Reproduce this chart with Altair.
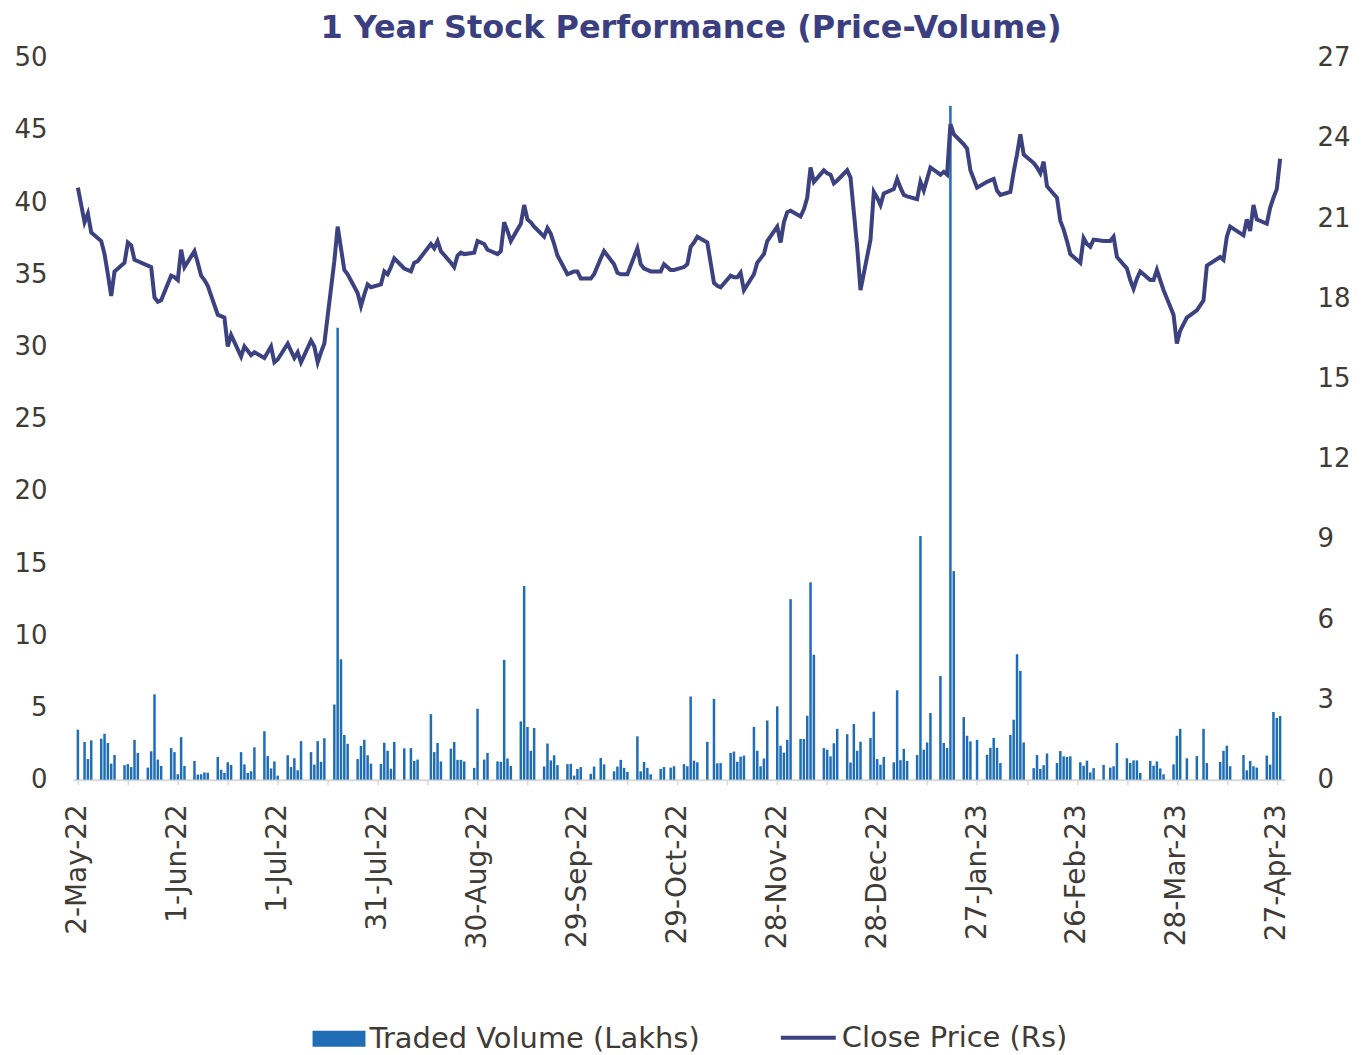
import altair as alt
import pandas as pd

# ---------------- data ----------------
HOLIDAYS = ["2022-05-03", "2022-08-09", "2022-08-15", "2022-08-31", "2022-10-05",
            "2022-10-26", "2022-11-08", "2023-01-26", "2023-03-07", "2023-03-30",
            "2023-04-04", "2023-04-07", "2023-04-14"]

# Close price (Rs), one value per trading day, week by week
close_price = [
    41.0, 38.6, 39.2, 37.9,
    37.3, 36.4, 35.0, 33.5, 35.2,
    35.8, 37.2, 37.0, 36.0, 35.9,
    35.6, 35.5, 33.4, 33.1, 33.2,
    34.9, 34.8, 34.6, 36.7, 35.5,
    36.6, 35.8, 34.9, 34.6, 34.2,
    32.2, 32.1, 32.0, 30.0, 30.8,
    29.3, 30.0, 29.7, 29.4, 29.6,
    29.2, 29.6, 30.0, 28.9, 29.1,
    30.2, 29.7, 29.2, 29.6, 28.9,
    30.4, 30.0, 28.9, 29.6, 30.2,
    35.9, 38.3, 36.8, 35.3, 35.0,
    33.7, 32.8, 33.6, 34.3, 34.1,
    34.3, 35.2, 35.0, 35.5, 36.1,
    35.4, 35.2, 35.8, 35.9,
    37.1, 36.8, 37.3, 36.6,
    35.8, 35.5, 36.3, 36.5, 36.4,
    36.5, 37.3, 37.1, 36.7,
    36.4, 36.6, 38.6, 38.0, 37.3,
    38.5, 39.8, 38.8, 38.6, 38.3,
    37.6, 38.2, 37.8, 37.1, 36.3,
    35.0, 35.1, 35.2, 35.2, 34.7,
    34.7, 35.0, 36.1, 36.6,
    35.7, 35.1, 35.0, 35.0, 35.0,
    36.8, 35.7, 35.4, 35.3, 35.2,
    35.2, 35.7, 35.3, 35.3,
    35.5, 35.7, 36.9, 37.2, 37.6,
    37.2, 34.4, 34.2, 34.1,
    34.9, 34.8, 34.8, 35.1, 33.9,
    35.0, 35.8, 36.1, 36.4, 37.3,
    38.3, 37.2, 38.6, 39.3, 39.4,
    39.0, 39.5, 40.3, 42.4, 41.4,
    42.2, 42.0, 41.9, 41.3, 41.5,
    42.2, 41.7, 39.3, 36.9, 33.9,
    37.4, 40.7, 40.3, 39.8, 40.6,
    40.9, 41.6, 41.0, 40.5, 40.4,
    40.2, 41.4, 40.8, 41.6, 42.4,
    41.9, 42.1, 41.9, 45.4, 44.7,
    44.0, 43.7, 42.2, 41.0,
    41.4, 41.5, 41.6, 40.8, 40.5,
    40.7, 42.1, 43.3, 44.7, 43.3,
    42.7, 42.4, 42.0, 42.8, 41.1,
    40.3, 38.7, 38.1, 37.3, 36.4,
    35.8, 37.5, 37.1, 36.9, 37.4,
    37.3, 37.3, 37.6, 36.2,
    35.4, 34.6, 34.0, 34.7, 35.2,
    34.6, 34.6, 35.3, 34.6, 33.9,
    32.2, 30.2, 31.1, 32.0,
    32.5, 33.2, 35.6,
    36.2, 36.0, 37.6, 38.3,
    37.7, 38.8, 38.0, 39.8, 38.8,
    38.5, 39.6, 40.3, 40.9, 43.0,
]

# Traded volume (lakhs), one value per trading day, week by week
traded_volume = [
    1.87, 1.41, 0.77, 1.47,
    1.53, 1.72, 1.37, 0.60, 0.92,
    0.54, 0.58, 0.47, 1.49, 1.00,
    0.45, 1.06, 3.19, 0.75, 0.51,
    1.18, 1.03, 0.20, 1.59, 0.51,
    0.70, 0.19, 0.20, 0.27, 0.26,
    0.85, 0.37, 0.25, 0.65, 0.55,
    1.03, 0.57, 0.25, 0.31, 1.21,
    1.81, 0.88, 0.42, 0.68, 0.15,
    0.91, 0.47, 0.80, 0.35, 1.44,
    1.03, 0.56, 1.44, 0.67, 1.55,
    2.81, 16.9, 4.50, 1.67, 1.34,
    0.77, 1.26, 1.49, 0.91, 0.60,
    0.59, 1.38, 1.08, 0.41, 1.41,
    1.17, 1.18, 0.70, 0.75,
    2.45, 1.03, 1.37, 0.68,
    1.16, 1.41, 0.74, 0.74, 0.68,
    0.44, 2.65, 0.75, 1.00,
    0.68, 0.67, 4.48, 0.79, 0.51,
    2.18, 7.24, 1.97, 1.08, 1.93,
    0.49, 1.35, 0.72, 0.91, 0.54,
    0.58, 0.59, 0.15, 0.40, 0.47,
    0.22, 0.49, 0.81, 0.57,
    0.31, 0.49, 0.74, 0.44, 0.29,
    1.62, 0.31, 0.66, 0.44, 0.20,
    0.40, 0.47, 0.45, 0.50,
    0.58, 0.50, 3.11, 0.71, 0.65,
    1.41, 3.02, 0.61, 0.62,
    1.00, 1.05, 0.67, 0.86, 0.90,
    1.97, 1.08, 0.50, 0.79, 2.21,
    2.74, 1.27, 1.01, 1.49, 6.75,
    1.52, 1.52, 2.39, 7.38, 4.67,
    1.18, 1.12, 0.87, 1.36, 1.90,
    1.70, 0.64, 2.08, 1.08, 1.42,
    1.56, 2.54, 0.77, 0.56, 0.85,
    0.65, 3.34, 0.73, 1.15, 0.70,
    0.92, 9.11, 1.12, 1.39, 2.49,
    3.88, 1.37, 1.18, 25.2, 7.80,
    2.34, 1.64, 1.43, 1.49,
    0.93, 1.19, 1.56, 1.19, 0.62,
    1.67, 2.24, 4.69, 4.07, 1.39,
    0.43, 0.92, 0.40, 0.54, 0.98,
    0.62, 1.07, 0.87, 0.85, 0.87,
    0.65, 0.52, 0.71, 0.27, 0.43,
    0.55, 0.45, 0.50, 1.37,
    0.80, 0.62, 0.72, 0.72, 0.25,
    0.70, 0.52, 0.68, 0.42, 0.20,
    0.57, 1.64, 1.90, 0.80,
    0.88, 1.90, 0.62,
    0.66, 1.08, 1.27, 0.50,
    0.92, 0.35, 0.70, 0.50, 0.45,
    0.90, 0.56, 2.53, 2.31, 2.38,
]

price_ticks = list(range(0, 51, 5))
volume_ticks = list(range(0, 28, 3))
series_names = ["Traded Volume (Lakhs)", "Close Price (Rs)"]

trading_days = [d for d in pd.bdate_range("2022-05-02", "2023-04-28")
                if d.strftime("%Y-%m-%d") not in HOLIDAYS]

df = pd.DataFrame({"date": trading_days, "price": close_price, "volume": traded_volume})

# ---------------- style ----------------
FONT = "DejaVu Sans"
TXT = "#3F3B36"
BAR = "#1F6EB5"
LINE = "#3C4180"
AXISGREY = "#D9D9D9"

tick_dates = pd.date_range("2022-05-02", periods=25, freq="15D")
tick_values = [alt.DateTime(year=d.year, month=d.month, date=d.day) for d in tick_dates]

x_enc = alt.X(
    "date:T",
    title=None,
    scale=alt.Scale(domain=[alt.DateTime(year=2022, month=5, date=2),
                            alt.DateTime(year=2023, month=4, date=28)]),
    axis=alt.Axis(
        values=tick_values,
        labelExpr="(round((datum.value - datetime(2022,4,2))/86400000) % 30 == 0) ? timeFormat(datum.value, '%-d-%b-%y') : ''",
        labelAngle=270, labelAlign="right", labelBaseline="middle",
        labelFont=FONT, labelFontSize=28, labelColor=TXT, labelPadding=19,
        tickColor=AXISGREY, tickSize=5, tickWidth=1.5,
        domainColor=AXISGREY, domainWidth=2, grid=False, labelOverlap=False,
        labelFlush=False,
    ),
)

bars = alt.Chart(df).transform_calculate(series=f"'{series_names[0]}'").mark_bar(size=2.5).encode(
    x=x_enc,
    y=alt.Y("volume:Q", title=None,
            scale=alt.Scale(domain=[0, 27], nice=False),
            axis=alt.Axis(orient="right", values=volume_ticks, ticks=False, domain=False,
                          grid=False, labelFont=FONT, labelFontSize=26, labelColor=TXT,
                          labelPadding=32)),
    color=alt.Color("series:N",
                    scale=alt.Scale(domain=[series_names[0]], range=[BAR]),
                    legend=alt.Legend(orient="none", legendX=240, legendY=956, title=None,
                                      symbolType="M-1,-0.3H1V0.3H-1Z", symbolSize=2809,
                                      symbolStrokeWidth=0, symbolOpacity=1,
                                      labelFont=FONT, labelFontSize=29, labelLimit=0,
                                      labelColor=TXT, labelOffset=4)),
)

line = alt.Chart(df).transform_calculate(series=f"'{series_names[1]}'").mark_line(strokeWidth=4).encode(
    x=x_enc,
    y=alt.Y("price:Q", title=None,
            scale=alt.Scale(domain=[0, 50], nice=False),
            axis=alt.Axis(orient="left", values=price_ticks, ticks=False, domain=False,
                          grid=False, labelFont=FONT, labelFontSize=26, labelColor=TXT,
                          labelPadding=26)),
    color=alt.Color("series:N",
                    scale=alt.Scale(domain=[series_names[1]], range=[LINE]),
                    legend=alt.Legend(orient="none", legendX=707, legendY=952, title=None,
                                      symbolType="stroke", symbolSize=3025,
                                      symbolStrokeWidth=4, labelFont=FONT, labelFontSize=29,
                                      labelLimit=0, labelColor=TXT, labelOffset=4)),
)

chart = alt.layer(bars, line).resolve_scale(y="independent", color="independent").properties(
    width=1214, height=723,
    padding={"left": 5, "top": 3, "right": 5, "bottom": 5},
    title=alt.Title("1 Year Stock Performance (Price-Volume)", font=FONT, fontSize=32,
                    fontWeight="bold", color="#3B3F80", anchor="middle", offset=0, dx=12),
).configure_view(stroke=None)

chart.save("out.html", embed_options={"renderer": "svg", "actions": False})
